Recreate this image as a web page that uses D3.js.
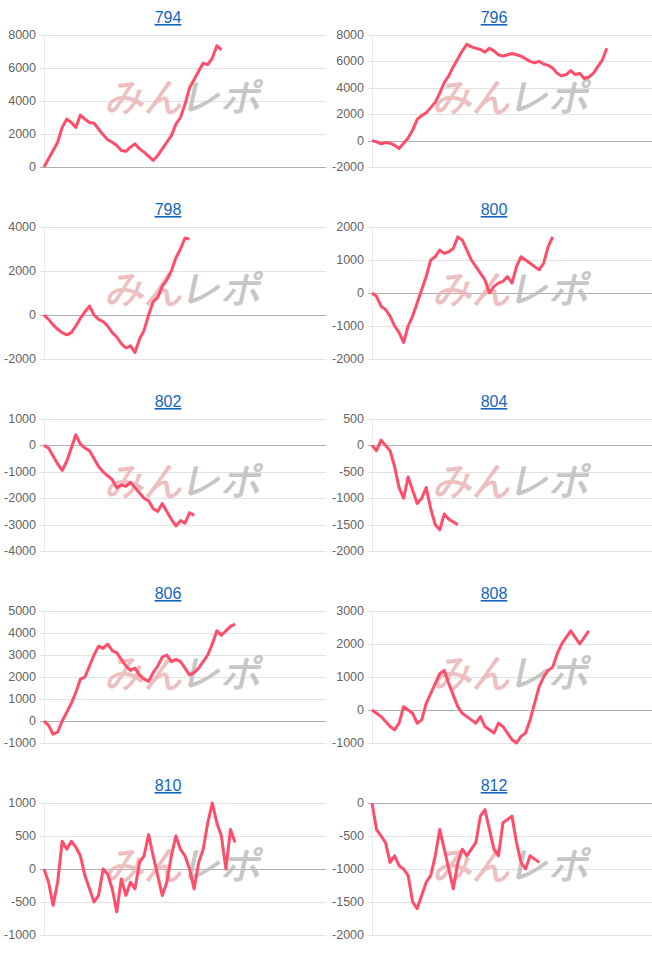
<!DOCTYPE html>
<html>
<head>
<meta charset="utf-8">
<script src="https://cdn.jsdelivr.net/npm/d3@7"></script>
<style>
  body { margin: 0; background: #fff; }
  text { font-family: "Liberation Sans", Arial, sans-serif; }
</style>
</head>
<body>
<div id="chart"></div>
<script>
// Panel titles
const titles = ['794', '796', '798', '800', '802', '804', '806', '808', '810', '812']

// Y tick labels per panel
const ticks794 = [0, 2000, 4000, 6000, 8000]
const ticks796 = [-2000, 0, 2000, 4000, 6000, 8000]
const ticks798 = [-2000, 0, 2000, 4000]
const ticks800 = [-2000, -1000, 0, 1000, 2000]
const ticks802 = [-4000, -3000, -2000, -1000, 0, 1000]
const ticks804 = [-2000, -1500, -1000, -500, 0, 500]
const ticks806 = [-1000, 0, 1000, 2000, 3000, 4000, 5000]
const ticks808 = [-1000, 0, 1000, 2000, 3000]
const ticks810 = [-1000, -500, 0, 500, 1000]
const ticks812 = [-2000, -1500, -1000, -500, 0]

// Series values (one point per game)
const s794 = [0, 500, 1000, 1500, 2400, 2900, 2700, 2400, 3150, 2900, 2700, 2650, 2300, 1950, 1650, 1500, 1300, 1000, 950, 1200, 1400, 1100, 900, 650, 400, 700, 1100, 1500, 1900, 2600, 3000, 3800, 4800, 5300, 5800, 6300, 6200, 6600, 7350, 7100]
const s796 = [0, -100, -250, -150, -200, -350, -600, -200, 200, 800, 1600, 1900, 2100, 2500, 2900, 3600, 4400, 4900, 5600, 6200, 6800, 7300, 7100, 7000, 6900, 6700, 7000, 6800, 6500, 6400, 6500, 6600, 6500, 6400, 6200, 6000, 5900, 6000, 5800, 5700, 5500, 5100, 4900, 5000, 5300, 5000, 5100, 4700, 4800, 5100, 5600, 6100, 7000]
const s798 = [0, -200, -450, -650, -800, -900, -800, -500, -150, 150, 400, 0, -200, -300, -500, -800, -1000, -1300, -1500, -1400, -1700, -1100, -700, 0, 600, 800, 1300, 1600, 2000, 2600, 3000, 3500, 3450]
const s800 = [0, -100, -400, -500, -700, -1000, -1200, -1500, -1000, -700, -300, 100, 500, 1000, 1100, 1300, 1200, 1250, 1350, 1700, 1600, 1300, 1000, 800, 600, 400, 0, 200, 300, 350, 500, 300, 800, 1100, 1000, 900, 800, 700, 900, 1400, 1700]
const s802 = [0, -100, -400, -700, -950, -600, -100, 400, 50, -100, -200, -500, -800, -1000, -1150, -1300, -1600, -1500, -1550, -1400, -1600, -1800, -2000, -2100, -2400, -2500, -2200, -2500, -2800, -3050, -2850, -2950, -2550, -2650]
const s804 = [0, -100, 100, 0, -100, -400, -800, -1000, -600, -850, -1100, -1000, -800, -1200, -1500, -1600, -1300, -1400, -1450, -1500]
const s806 = [0, -200, -600, -500, 0, 400, 800, 1300, 1900, 2000, 2500, 3000, 3400, 3300, 3500, 3200, 3100, 2800, 2500, 2300, 2400, 2100, 1900, 1800, 2200, 2500, 2900, 3000, 2700, 2800, 2700, 2400, 2100, 2200, 2400, 2700, 3000, 3500, 4100, 3900, 4100, 4300, 4400]
const s808 = [0, -100, -200, -350, -500, -600, -400, 100, 0, -100, -400, -300, 200, 500, 800, 1100, 1200, 800, 450, 100, -100, -200, -300, -400, -200, -500, -600, -700, -400, -500, -700, -900, -1000, -800, -700, -300, 200, 700, 1000, 1200, 1300, 1700, 2000, 2200, 2400, 2200, 2000, 2200, 2400]
const s810 = [0, -200, -550, -200, 420, 300, 420, 330, 200, -100, -300, -500, -400, 0, -80, -300, -650, -150, -400, -200, -300, 100, 200, 520, 200, -100, -400, -200, 200, 500, 300, 200, 0, -300, 100, 300, 700, 1000, 700, 500, 0, 600, 400]
const s812 = [0, -400, -500, -600, -900, -800, -950, -1000, -1100, -1500, -1600, -1400, -1200, -1100, -800, -400, -700, -1000, -1300, -900, -700, -800, -700, -600, -200, -100, -400, -700, -800, -300, -250, -200, -600, -900, -1000, -800, -850, -900]

const seriesList = [s794, s796, s798, s800, s802, s804, s806, s808, s810, s812]
const tickList = [ticks794, ticks796, ticks798, ticks800, ticks802, ticks804, ticks806, ticks808, ticks810, ticks812]

const W = 652, H = 958
const panelW = 326, panelH = 192
const gamesPerPanel = 62

const svg = d3.select('#chart').append('svg')
  .attr('width', W)
  .attr('height', H)

titles.forEach((title, i) => {
  const col = i % 2, row = Math.floor(i / 2)
  const g = svg.append('g')
    .attr('transform', `translate(${col * panelW}, ${row * panelH})`)

  const left = col === 0 ? 44 : 46
  const top = 35, bottom = 167
  const t = tickList[i]

  const x = d3.scaleLinear().domain([0, gamesPerPanel]).range([left, panelW])
  const y = d3.scaleLinear().domain([t[0], t[t.length - 1]]).range([bottom, top])

  // title link
  g.append('text')
    .attr('x', panelW / 2 + 5)
    .attr('y', 23)
    .attr('text-anchor', 'middle')
    .attr('fill', '#1565c0')
    .attr('font-size', 16)
    .attr('text-decoration', 'underline')
    .text(title)

  // grid
  g.selectAll('line.grid')
    .data(t)
    .enter()
    .append('line')
      .attr('x1', left - 4)
      .attr('x2', panelW)
      .attr('y1', (d) => Math.round(y(d)) + 0.5)
      .attr('y2', (d) => Math.round(y(d)) + 0.5)
      .attr('stroke', (d) => d === 0 ? '#b0b0b0' : '#e2e2e2')

  g.append('line')
    .attr('x1', left + 0.5).attr('x2', left + 0.5)
    .attr('y1', top).attr('y2', bottom)
    .attr('stroke', '#ececec')

  g.selectAll('text.tick')
    .data(t)
    .enter()
    .append('text')
      .attr('x', left - 8)
      .attr('y', (d) => y(d) + 4)
      .attr('text-anchor', 'end')
      .attr('fill', '#666')
      .attr('font-size', 12.5)
      .text((d) => d)

  // watermark
  const wm = g.append('text')
    .attr('transform', `translate(${left + 62}, 109) skewX(-12)`)
    .attr('font-size', 38)
    .attr('font-weight', 900)
    .attr('font-family', '"Noto Sans CJK JP", sans-serif')
    .attr('opacity', 0.85)
  wm.append('tspan').attr('fill', '#eab4b6').text('みん')
  wm.append('tspan').attr('fill', '#bdbdbd').text('レポ')

  const line = d3.line()
    .x((d, j) => x(j))
    .y((d) => y(d))

  g.append('path')
    .attr('d', line(seriesList[i]))
    .attr('fill', 'none')
    .attr('stroke', '#ff4d6a')
    .attr('stroke-width', 3)
    .attr('stroke-linejoin', 'round')
})
</script>
</body>
</html>
